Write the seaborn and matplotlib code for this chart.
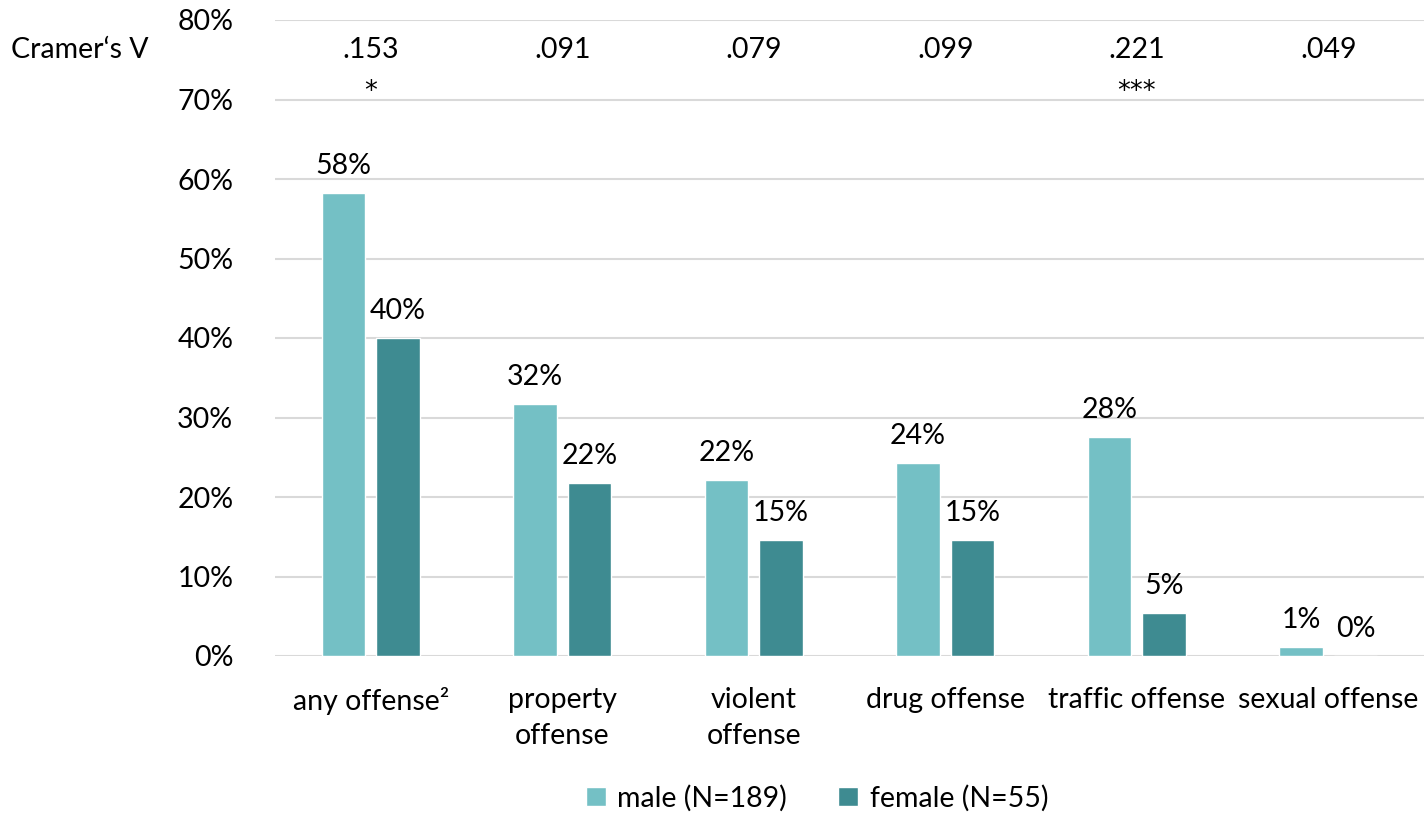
import pandas as pd
import seaborn as sns
import matplotlib.pyplot as plt
from matplotlib.ticker import PercentFormatter

# Data
offenses = ["any offense²", "property\noffense", "violent\noffense",
            "drug offense", "traffic offense", "sexual offense"]
male = [58.2, 31.7, 22.2, 24.3, 27.5, 1.1]
female = [40.0, 21.8, 14.6, 14.6, 5.45, 0.0]
cramers_v = [".153", ".091", ".079", ".099", ".221", ".049"]
signif = ["*", "", "", "", "***", ""]
groups = ["male (N=189)", "female (N=55)"]
colors = ["#74C0C5", "#3E8B91"]

df = pd.DataFrame({
    "offense": offenses * 2,
    "pct": male + female,
    "group": [groups[0]] * len(offenses) + [groups[1]] * len(offenses),
})

sns.set_style("white")
plt.rcParams['font.family'] = ['Lato', 'DejaVu Sans']
plt.rcParams['text.color'] = 'black'
plt.rcParams['xtick.color'] = 'black'
plt.rcParams['ytick.color'] = 'black'
fs = 20.5

fig = plt.figure(figsize=(14.24, 8.14), dpi=100)
ax = fig.add_axes([275 / 1424, 1 - 656 / 814, 1 - 275 / 1424, (656 - 20) / 814])

sns.barplot(data=df, x="offense", y="pct", hue="group", palette=colors,
            saturation=1, width=0.57, gap=0.21, ax=ax, legend=True)

for cont in ax.containers:
    ax.bar_label(cont, labels=[f"{v:.0f}%" for v in cont.datavalues],
                 padding=10, fontsize=fs)

ax.set_ylim(0, 80)
ax.set_xlim(-0.5, 5.5)
ax.set_yticks(range(0, 81, 10))
ax.yaxis.set_major_formatter(PercentFormatter(decimals=0))
ax.grid(axis="y", color="#D9D9D9", linewidth=1.5)
ax.set_axisbelow(True)
for s in ax.spines.values():
    s.set_visible(False)
ax.tick_params(axis="both", length=0, labelsize=fs)
ax.tick_params(axis="x", pad=22)
ax.tick_params(axis="y", pad=30)
for lbl in ax.get_xticklabels():
    lbl.set_linespacing(1.5)
ax.set_xlabel("")
ax.set_ylabel("")

# Cramer's V row
for i, (v, s) in enumerate(zip(cramers_v, signif)):
    ax.text(i, 76.2, v, ha="center", va="center", fontsize=fs)
    if s:
        ax.text(i, 71.0, s, ha="center", va="center", fontsize=fs - 2,
                family="DejaVu Sans")
fig.text(80 / 1424, 1 - 50 / 814, "Cramer‘s V", ha="center", va="center", fontsize=fs)

handles, labels = ax.get_legend_handles_labels()
ax.get_legend().remove()
fig.legend(handles, labels, loc="center", bbox_to_anchor=(817 / 1424, 1 - 798 / 814),
           ncol=2, frameon=False, fontsize=fs, handlelength=0.7, handleheight=0.7,
           handletextpad=0.4, columnspacing=1.8)

fig.savefig("out.png", dpi=100)
